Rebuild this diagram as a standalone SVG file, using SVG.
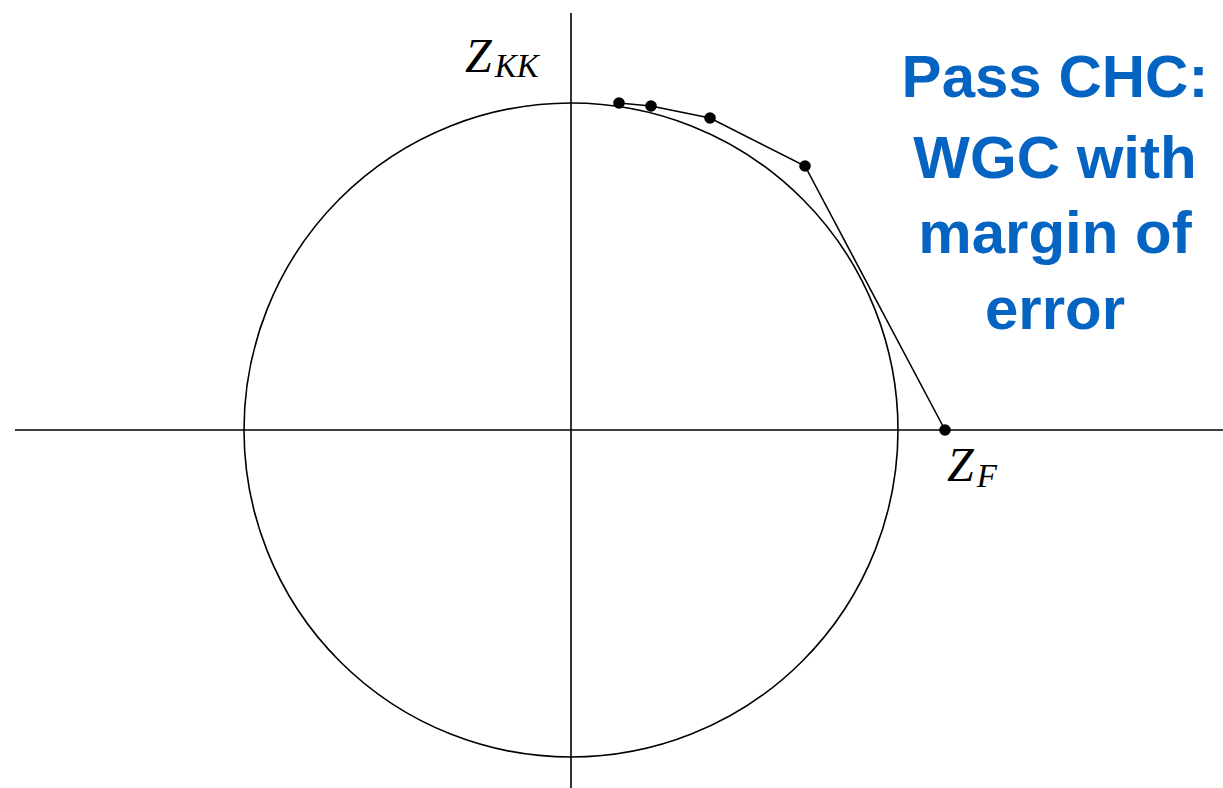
<svg xmlns="http://www.w3.org/2000/svg" width="1223" height="788" viewBox="0 0 1223 788">
<style>
.ax{stroke:#000;stroke-width:1.6;fill:none}
.dot{fill:#000}
.m{font-family:"Liberation Serif",serif;font-style:italic;fill:#000}
.t{font-family:"Liberation Sans",Arial,sans-serif;font-weight:bold;font-size:60px;fill:#0563C1;text-anchor:middle}
</style>
<rect width="1223" height="788" fill="#fff"/>
<g id="axes">
<line class="ax" x1="15" y1="430" x2="1223" y2="430"/>
<line class="ax" x1="571" y1="13" x2="571" y2="788"/>
</g>
<g id="circle"><circle class="ax" cx="571" cy="430" r="327"/></g>
<g id="connectors">
<polyline class="ax" points="619,103 651,106 710,118 805,166 945,430"/>
</g>
<g id="points">
<circle class="dot" cx="619" cy="103" r="5.8"/>
<circle class="dot" cx="651" cy="106" r="5.8"/>
<circle class="dot" cx="710" cy="118" r="5.8"/>
<circle class="dot" cx="805" cy="166" r="5.8"/>
<circle class="dot" cx="945" cy="430" r="5.8"/>
</g>
<g id="labels">
<text class="m" x="465" y="72" font-size="48">Z<tspan font-size="33" dx="3" dy="5">KK</tspan></text>
<text class="m" x="947" y="481" font-size="48">Z<tspan font-size="33" dx="3" dy="6">F</tspan></text>
</g>
<g id="title">
<text class="t" x="1055" y="97">Pass CHC:</text>
<text class="t" x="1055" y="178">WGC with</text>
<text class="t" x="1055" y="253">margin of</text>
<text class="t" x="1055" y="329">error</text>
</g>
</svg>
